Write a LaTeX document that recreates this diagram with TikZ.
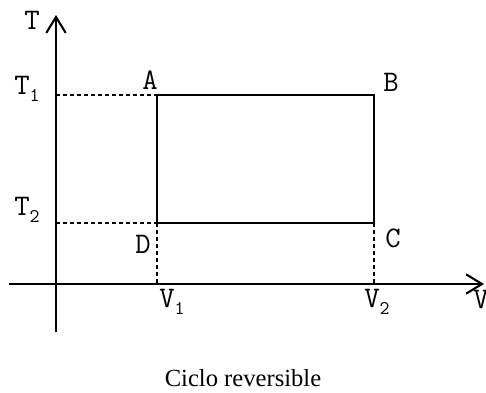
\documentclass[tikz,border=0pt]{standalone}
\usepackage{fontspec}
\newfontfamily\captionfont{Liberation Serif}
\usetikzlibrary{arrows.meta, positioning}

\newcommand{\lowsub}[1]{\raisebox{-0.55ex}{\fontsize{11}{11}\selectfont #1}}

\begin{document}
\begin{tikzpicture}[x=0.02cm, y=-0.02cm,
  axis/.style={draw=black, line width=1.2pt, -{Straight Barb[length=9pt, width=11pt, line width=1.2pt]}},
  cycle/.style={draw=black, line width=1pt},
  guide/.style={draw=black, line width=1.1pt, dash pattern=on 2pt off 2pt},
  lbl/.style={font=\fontsize{17}{19}\selectfont\ttfamily, inner sep=0pt},
]
\useasboundingbox (0,0) rectangle (486,392);

% axes
\coordinate (ybot) at (56,332);
\coordinate (ytop) at (56,15);
\coordinate (xleft) at (9,284);
\coordinate (xright) at (484,284);
\draw[axis] (ybot) -- (ytop);
\draw[axis] (xleft) -- (xright);

% cycle corners
\coordinate (A) at (157,95);
\coordinate (B) at (374,95);
\coordinate (C) at (374,223);
\coordinate (D) at (157,223);
\coordinate (T1) at (56,95);
\coordinate (T2) at (56,223);
\coordinate (V1) at (157,284);
\coordinate (V2) at (374,284);

\draw[cycle] (A) -- (B) -- (C) -- (D) -- cycle;
\draw[guide] (T1) -- (A);
\draw[guide] (T2) -- (D);
\draw[guide] (D) -- (V1);
\draw[guide] (C) -- (V2);

% labels
\node[lbl] (lT)  at (32,20)  {T};
\node[lbl] (lT1) at (27,89)  {T\lowsub{1}};
\node[lbl] (lT2) at (27,210) {T\lowsub{2}};
\node[lbl] (lA)  at (150,80) {A};
\node[lbl] (lB)  at (391,82) {B};
\node[lbl] (lC)  at (393,238) {C};
\node[lbl] (lD)  at (143,244) {D};
\node[lbl] (lV1) at (172,302) {V\lowsub{1}};
\node[lbl] (lV2) at (377,302) {V\lowsub{2}};
\node[lbl] (lV)  at (481,300) {V};

\node[font=\fontsize{14}{16}\selectfont\captionfont, inner sep=0pt] (cap) at (243,378) {Ciclo reversible};
\end{tikzpicture}
\end{document}
